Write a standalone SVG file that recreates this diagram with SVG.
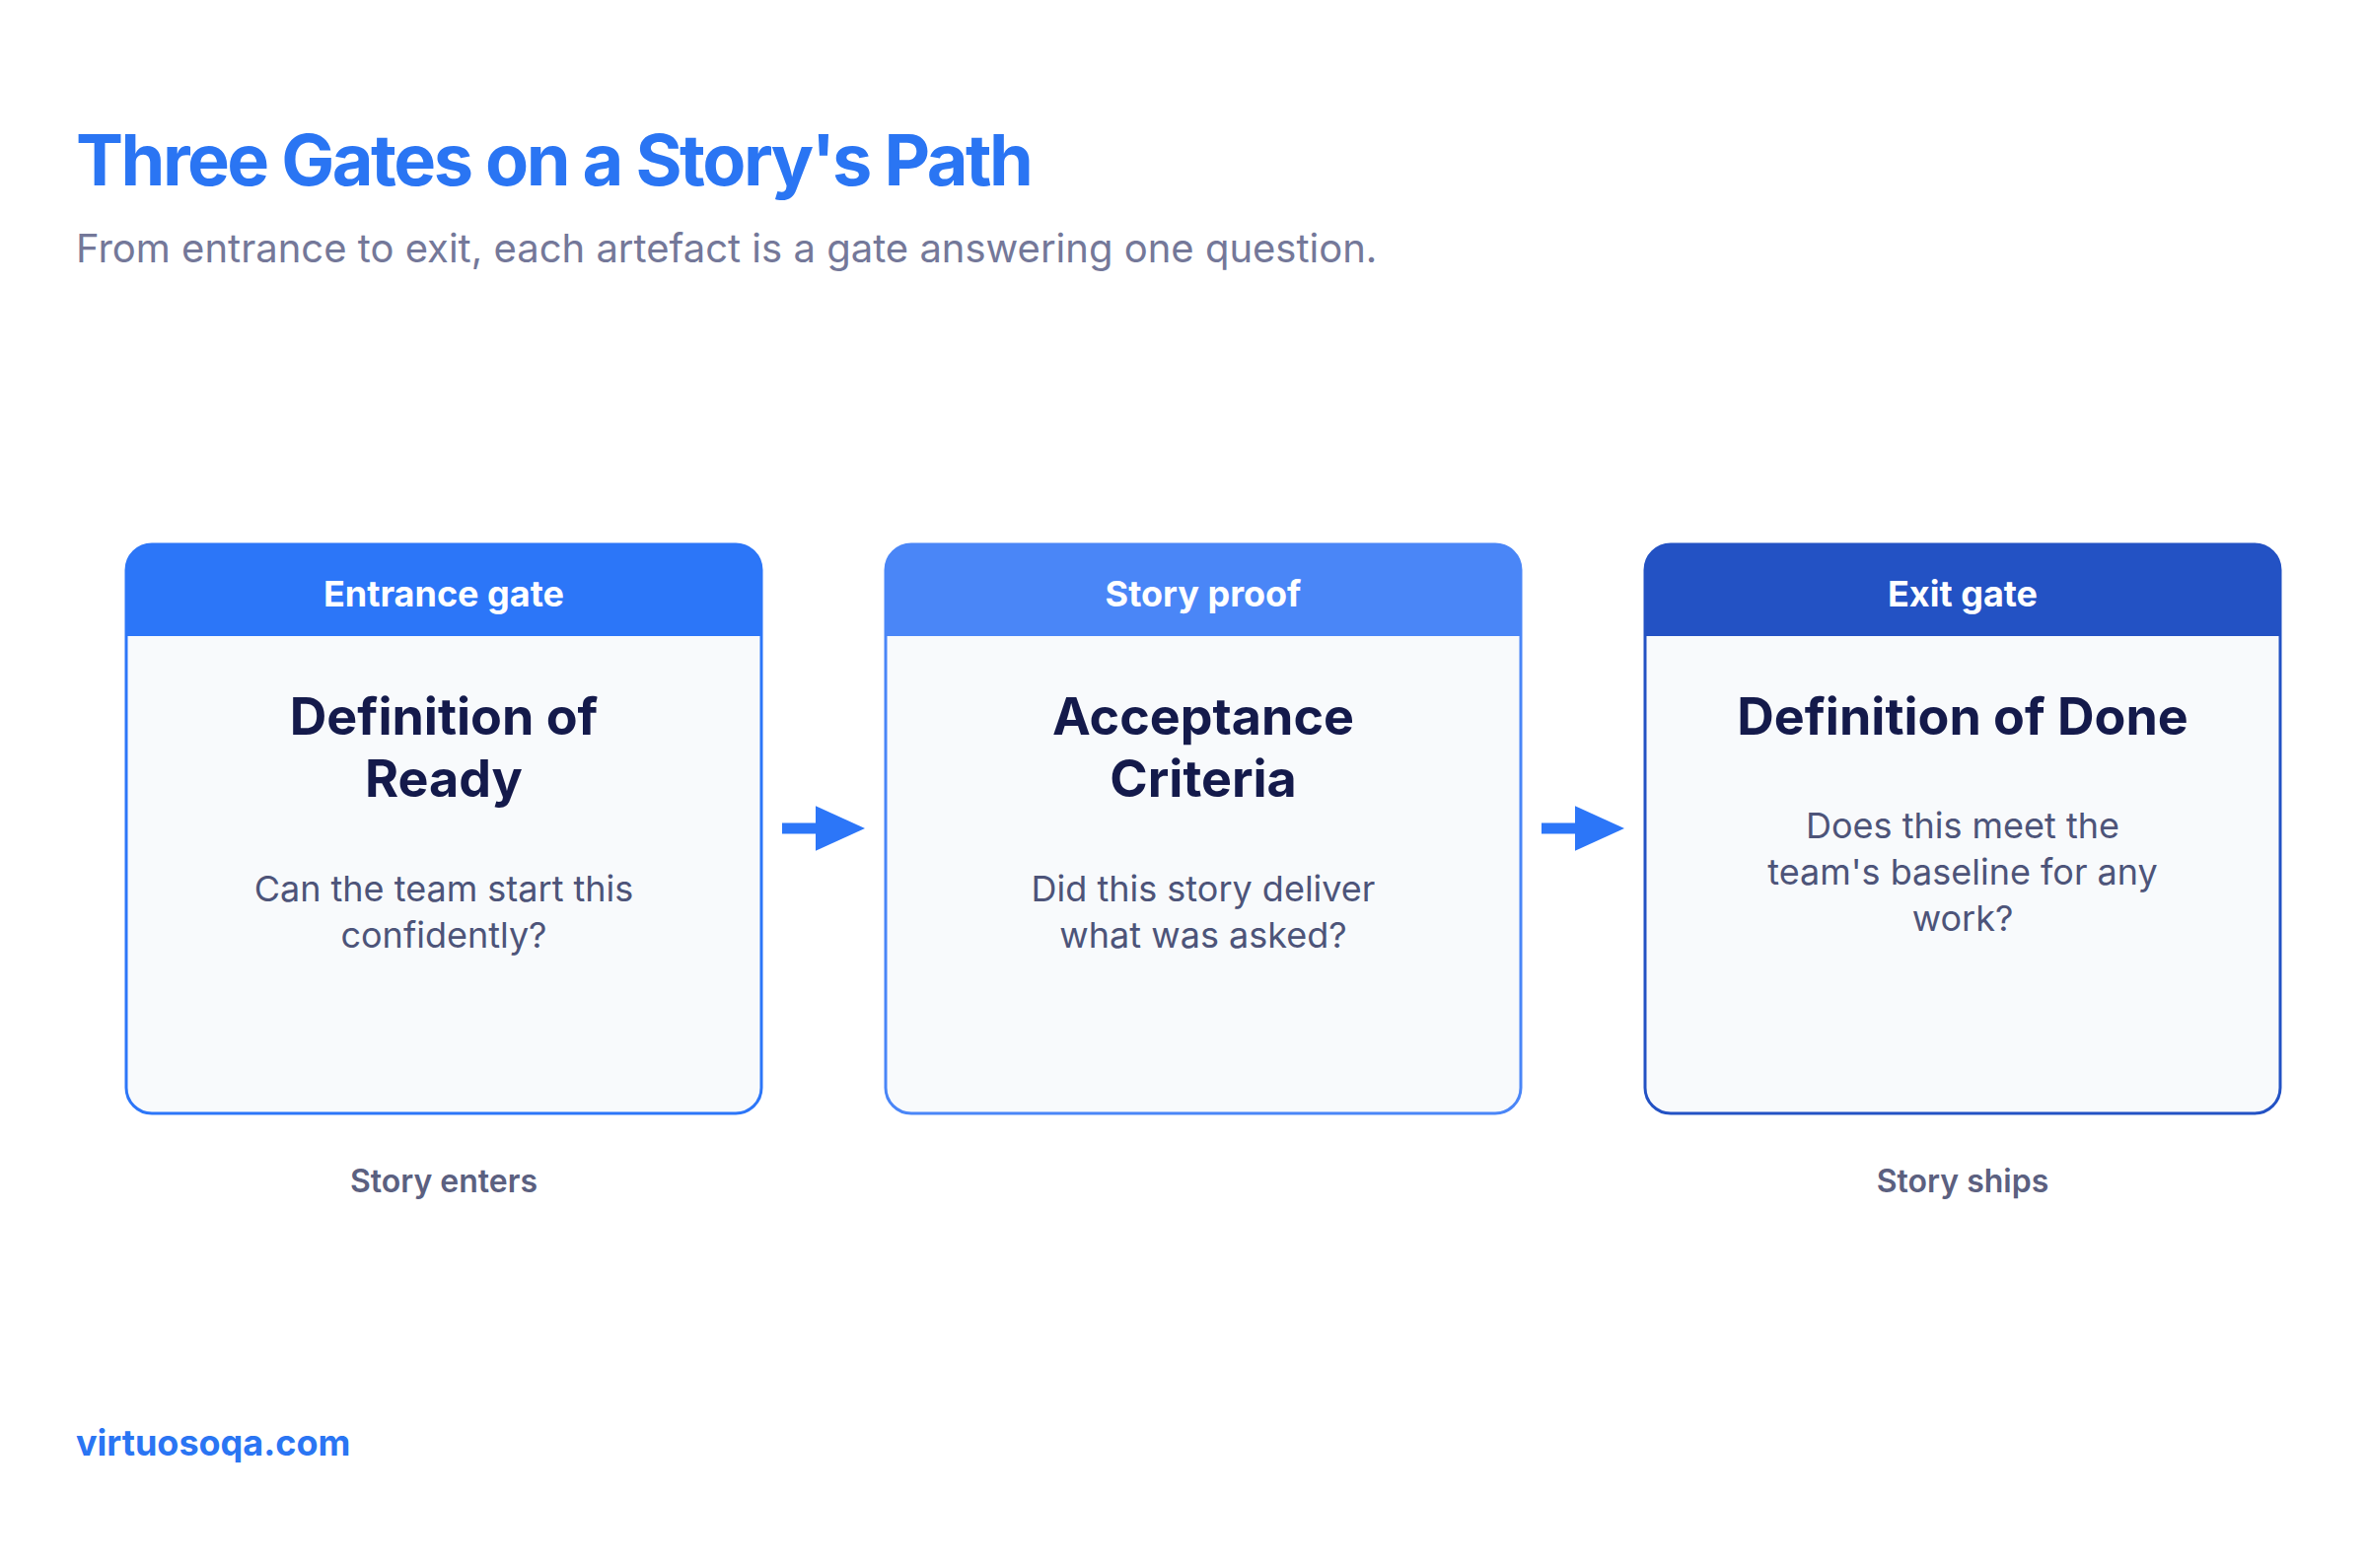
<svg xmlns="http://www.w3.org/2000/svg" width="2400" height="1590" viewBox="0 0 2400 1590">
<style>
text{font-family:Inter,"Liberation Sans",sans-serif}
.hd{font-size:36px;font-weight:700;fill:#fff;text-anchor:middle}
.tt{font-size:52px;font-weight:700;fill:#141a4b;text-anchor:middle}
.q{font-size:36px;fill:#4d5479;text-anchor:middle}
.lb{font-size:32px;font-weight:600;fill:#5b6080;text-anchor:middle}
.body{fill:#f8fafc;stroke-width:3}
</style>
<defs>
<marker id="ah" markerWidth="4.6" markerHeight="4.2" refX="0.5" refY="2.1" orient="auto" markerUnits="strokeWidth"><path d="M0,0 L4.6,2.1 L0,4.2 Z" fill="#2c76f8"/></marker>
<clipPath id="c1"><rect x="128" y="552" width="644" height="577" rx="26"/></clipPath>
<clipPath id="c2"><rect x="898" y="552" width="644" height="577" rx="26"/></clipPath>
<clipPath id="c3"><rect x="1668" y="552" width="644" height="577" rx="26"/></clipPath>
</defs>
<rect width="2400" height="1590" fill="#fff"/>
<text x="77" y="188" font-size="72" font-weight="700" fill="#2a75f3" letter-spacing="-2.5">Three Gates on a Story's Path</text>
<text x="77" y="266" font-size="40" fill="#747899">From entrance to exit, each artefact is a gate answering one question.</text>
<g id="gate1">
<rect x="128" y="552" width="644" height="577" rx="26" class="body" stroke="#2c76f8"/>
<rect x="128" y="552" width="644" height="93" fill="#2c76f8" clip-path="url(#c1)"/>
<text x="450" y="615" class="hd">Entrance gate</text>
<text x="450" y="745" class="tt">Definition of</text>
<text x="450" y="808" class="tt">Ready</text>
<text x="450" y="914" class="q">Can the team start this</text>
<text x="450" y="961" class="q">confidently?</text>
<text x="450" y="1209" class="lb">Story enters</text>
</g>
<g id="gate2">
<rect x="898" y="552" width="644" height="577" rx="26" class="body" stroke="#4a86f7"/>
<rect x="898" y="552" width="644" height="93" fill="#4a86f7" clip-path="url(#c2)"/>
<text x="1220" y="615" class="hd">Story proof</text>
<text x="1220" y="745" class="tt">Acceptance</text>
<text x="1220" y="808" class="tt">Criteria</text>
<text x="1220" y="914" class="q">Did this story deliver</text>
<text x="1220" y="961" class="q">what was asked?</text>
</g>
<g id="gate3">
<rect x="1668" y="552" width="644" height="577" rx="26" class="body" stroke="#2352c4"/>
<rect x="1668" y="552" width="644" height="93" fill="#2352c4" clip-path="url(#c3)"/>
<text x="1990" y="615" class="hd">Exit gate</text>
<text x="1990" y="745" class="tt">Definition of Done</text>
<text x="1990" y="850" class="q">Does this meet the</text>
<text x="1990" y="897" class="q">team's baseline for any</text>
<text x="1990" y="944" class="q">work?</text>
<text x="1990" y="1209" class="lb">Story ships</text>
</g>
<g id="connectors" stroke="#2c76f8" stroke-width="11">
<line x1="793" y1="840" x2="832" y2="840" marker-end="url(#ah)"/>
<line x1="1563" y1="840" x2="1602" y2="840" marker-end="url(#ah)"/>
</g>
<text x="77" y="1476" font-size="36" font-weight="700" fill="#2a75f3">virtuosoqa.com</text>
</svg>
